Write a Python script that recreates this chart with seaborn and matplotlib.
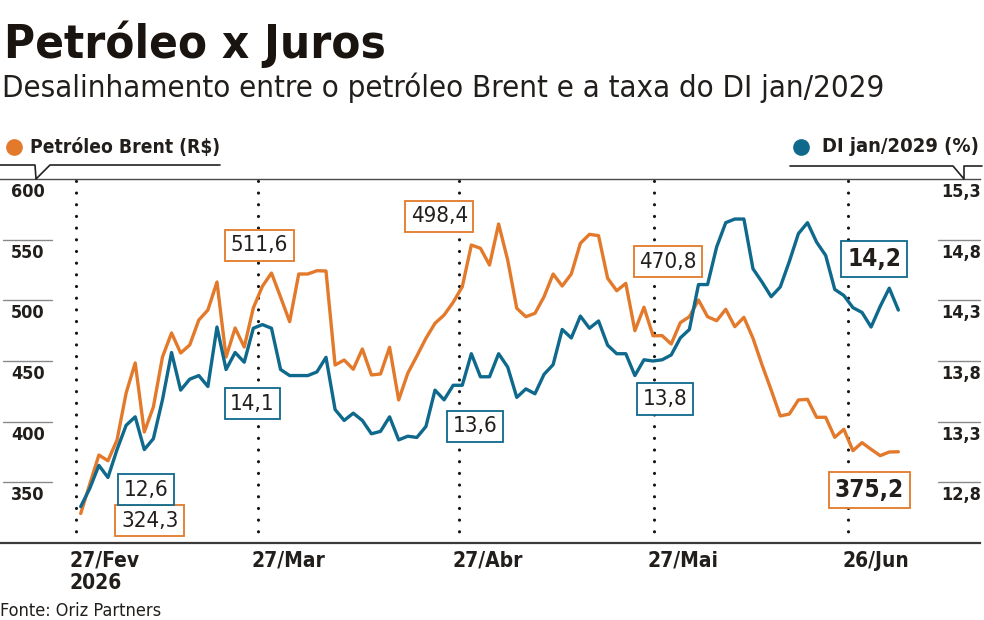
import numpy as np
import pandas as pd
import matplotlib
matplotlib.use("Agg")
import matplotlib.pyplot as plt
import seaborn as sns
from matplotlib import transforms as mtrans
from matplotlib.lines import Line2D

# ---------------- data ----------------
brent = [324.3, 348.6, 372.5, 367.8, 384.9, 423.6, 448.4, 391.5, 412.1, 453.3,
         473.1, 456.6, 463.2, 483.8, 492.0, 515.1, 453.3, 477.2, 461.5, 493.7,
         511.6, 522.5, 502.7, 482.4, 521.7, 521.7, 524.4, 524.2, 446.7, 450.8,
         443.2, 459.9, 438.5, 439.3, 461.3, 417.9, 439.9, 454.1, 468.7, 481.1,
         487.9, 498.4, 511.2, 545.6, 542.9, 529.1, 562.9, 533.2, 493.4, 486.5,
         489.3, 503.0, 521.7, 511.8, 521.7, 547.0, 554.4, 553.3, 518.2, 507.9,
         514.0, 475.0, 494.3, 470.8, 470.9, 464.0, 481.6, 486.5, 500.3, 486.5,
         483.2, 492.6, 478.3, 486.0, 468.7, 446.7, 426.1, 404.7, 406.3, 417.9,
         418.4, 403.6, 403.6, 387.1, 393.7, 376.1, 382.7, 377.2, 372.0, 375.0,
         375.2]
di = [12.60, 12.75, 12.94, 12.84, 13.07, 13.27, 13.34, 13.07, 13.16, 13.48,
      13.87, 13.56, 13.65, 13.68, 13.59, 14.08, 13.73, 13.87, 13.79, 14.07,
      14.10, 14.07, 13.73, 13.68, 13.68, 13.68, 13.71, 13.83, 13.40, 13.31,
      13.37, 13.31, 13.20, 13.22, 13.34, 13.15, 13.18, 13.17, 13.26, 13.56,
      13.48, 13.60, 13.60, 13.86, 13.67, 13.67, 13.86, 13.75, 13.50, 13.57,
      13.53, 13.69, 13.77, 14.06, 13.99, 14.17, 14.07, 14.13, 13.93, 13.86,
      13.86, 13.68, 13.81, 13.80, 13.81, 13.85, 13.99, 14.06, 14.43, 14.43,
      14.74, 14.94, 14.97, 14.97, 14.56, 14.45, 14.33, 14.41, 14.62, 14.85,
      14.94, 14.78, 14.67, 14.39, 14.34, 14.24, 14.20, 14.08, 14.25, 14.40,
      14.22]
start_date = "2026-02-27"
tick_dates = ["2026-02-27", "2026-03-27", "2026-04-27", "2026-05-27", "2026-06-26"]
tick_labels = ["27/Fev\n2026", "27/Mar", "27/Abr", "27/Mai", "26/Jun"]
left_ticks = [350, 400, 450, 500, 550, 600]
left_tick_labels = ["350", "400", "450", "500", "550", "600"]
right_ticks = [12.8, 13.3, 13.8, 14.3, 14.8, 15.3]
right_tick_labels = ["12,8", "13,3", "13,8", "14,3", "14,8", "15,3"]
brent_callouts = [0, 20, 41, 63, 90]
di_callouts = [0, 20, 41, 63, 90]

# ---------------- styles ----------------
ORANGE = "#E3792B"
BLUE = "#0F698C"
INK = "#221E1C"
W, H = 984, 620

sns.set_theme(style="white")
plt.rcParams["font.family"] = ["DejaVu Sans"]
plt.rcParams["font.stretch"] = "condensed"
plt.rcParams["lines.scale_dashes"] = False

dates = pd.bdate_range(start_date, periods=len(brent))
df = pd.DataFrame({"idx": np.arange(len(brent)), "date": dates,
                   "brent": brent, "di": di})
total_days = (dates[-1] - dates[0]).days
def date_pos(d):
    return (pd.Timestamp(d) - dates[0]).days * (len(brent) - 1) / total_days - 0.52

def fx(px):
    return px / W
def fy(py):
    return 1 - py / H

fig = plt.figure(figsize=(W / 100, H / 100), dpi=100)
AX_L, AX_R, AX_T, AX_B = 0, 980, 179, 543
AXW = AX_R - AX_L
ax = fig.add_axes([fx(AX_L), fy(AX_B), AXW / W, (AX_B - AX_T) / H])
px0, step = 80.7, 9.085
ax.set_xlim((AX_L - px0) / step, (AX_R - px0) / step)
ax.set_ylim(300, 600)
ax2 = ax.twinx()
ax2.set_ylim(12.3, 15.3)

for a in (ax, ax2):
    a.patch.set_visible(False)
    for s in a.spines.values():
        s.set_visible(False)
ax.spines["top"].set_visible(True)
ax.spines["top"].set_color("#4a4a4a")
ax.spines["top"].set_linewidth(1.0)
ax.spines["bottom"].set_visible(True)
ax.spines["bottom"].set_color("#3a3a3a")
ax.spines["bottom"].set_linewidth(1.6)

# dotted date lines
for d in tick_dates:
    ax.axvline(date_pos(d), color="#151515", lw=2.3, linestyle=(0, (0.01, 8.4)),
               dash_capstyle="round", zorder=1)

sns.lineplot(data=df, x="idx", y="brent", ax=ax, color=ORANGE, lw=2.4, zorder=3)
sns.lineplot(data=df, x="idx", y="di", ax=ax2, color=BLUE, lw=2.4, zorder=3)
for a in (ax, ax2):
    a.set_xlabel("")
    a.set_ylabel("")
    a.set_xticks([])
    a.set_yticks([])

# y tick labels with short rules
bl = mtrans.blended_transform_factory(ax.transAxes, ax.transData)
br = mtrans.blended_transform_factory(ax2.transAxes, ax2.transData)
down = mtrans.ScaledTranslation(0, -13 / 100, fig.dpi_scale_trans)
for v, lab in zip(left_ticks, left_tick_labels):
    if v != 600:
        ax.plot([3 / AXW, 52 / AXW], [v, v], transform=bl,
                color="#8a8a8a", lw=1.0, clip_on=False)
    ax.text(28 / AXW, v, lab, transform=bl + down, ha="center", va="center",
            fontsize=13, fontweight="bold", color=INK)
for v, lab in zip(right_ticks, right_tick_labels):
    if v != 15.3:
        ax2.plot([938 / AXW, 980 / AXW], [v, v], transform=br,
                 color="#8a8a8a", lw=1.0, clip_on=False)
    ax2.text(961 / AXW, v, lab, transform=br + down, ha="center", va="center",
             fontsize=13, fontweight="bold", color=INK)

# x labels
for d, lab in zip(tick_dates, tick_labels):
    ax.annotate(lab, xy=(date_pos(d), 0), xycoords=("data", "axes fraction"),
                xytext=(-6 * 0.72, -8 * 0.72), textcoords="offset points",
                ha="left", va="top", fontsize=15, fontweight="bold", color=INK,
                linespacing=1.1, annotation_clip=False)

# callout boxes (offsets in pixels from the data point)
def box(a, i, val, text, color, dx, dy, bold=False):
    a.annotate(text, xy=(i, val), xytext=(dx * 0.72, dy * 0.72), textcoords="offset points",
               ha="center", va="center", fontsize=17.5 if bold else 16,
               fontweight="bold" if bold else "normal", color=INK, zorder=6,
               bbox=dict(boxstyle="square,pad=0.25", fc="white", ec=color, lw=1.3))

b_off = {0: (69, -7), 20: (-3, 41), 41: (-14, 86), 63: (15, 74), 90: (-29, -38)}
d_off = {0: (65, 17), 20: (-10, -79), 41: (22, -41), 63: (12, -38), 90: (-24, 51)}
for i in brent_callouts:
    box(ax, i, brent[i], f"{brent[i]:.1f}".replace(".", ","), ORANGE, *b_off[i], bold=(i == 90))
for i in di_callouts:
    box(ax2, i, di[i], f"{di[i]:.1f}".replace(".", ","), BLUE, *d_off[i], bold=(i == 90))

# title & subtitle
fig.text(fx(4), fy(58), "Petróleo x Juros", fontsize=34, fontweight="heavy",
         color="#1a1410", ha="left", va="baseline")
fig.text(fx(2), fy(97), "Desalinhamento entre o petróleo Brent e a taxa do DI jan/2029",
         fontsize=22.4, color=INK, ha="left", va="baseline")

# legends
fig.add_artist(Line2D([fx(14)], [fy(147)], marker="o", ms=11, color=ORANGE,
                      transform=fig.transFigure))
fig.text(fx(30), fy(147), "Petróleo Brent (R$)", fontsize=13.8, fontweight="bold",
         color=INK, ha="left", va="center")
fig.add_artist(Line2D([fx(0), fx(35), fx(36), fx(50), fx(220)],
                      [fy(165), fy(165), fy(179), fy(165), fy(165)],
                      color="#222", lw=1.2, transform=fig.transFigure))
fig.add_artist(Line2D([fx(801)], [fy(147)], marker="o", ms=11, color=BLUE,
                      transform=fig.transFigure))
fig.text(fx(822), fy(147), "DI jan/2029 (%)", fontsize=14.5, fontweight="bold",
         color=INK, ha="left", va="center")
fig.add_artist(Line2D([fx(790), fx(953), fx(964), fx(964), fx(982)],
                      [fy(166), fy(166), fy(179), fy(166), fy(166)],
                      color="#222", lw=1.2, transform=fig.transFigure))

fig.text(fx(0), fy(611), "Fonte: Oriz Partners", fontsize=13, color=INK,
         ha="left", va="center")

fig.savefig("out.png", dpi=100, facecolor="white")
